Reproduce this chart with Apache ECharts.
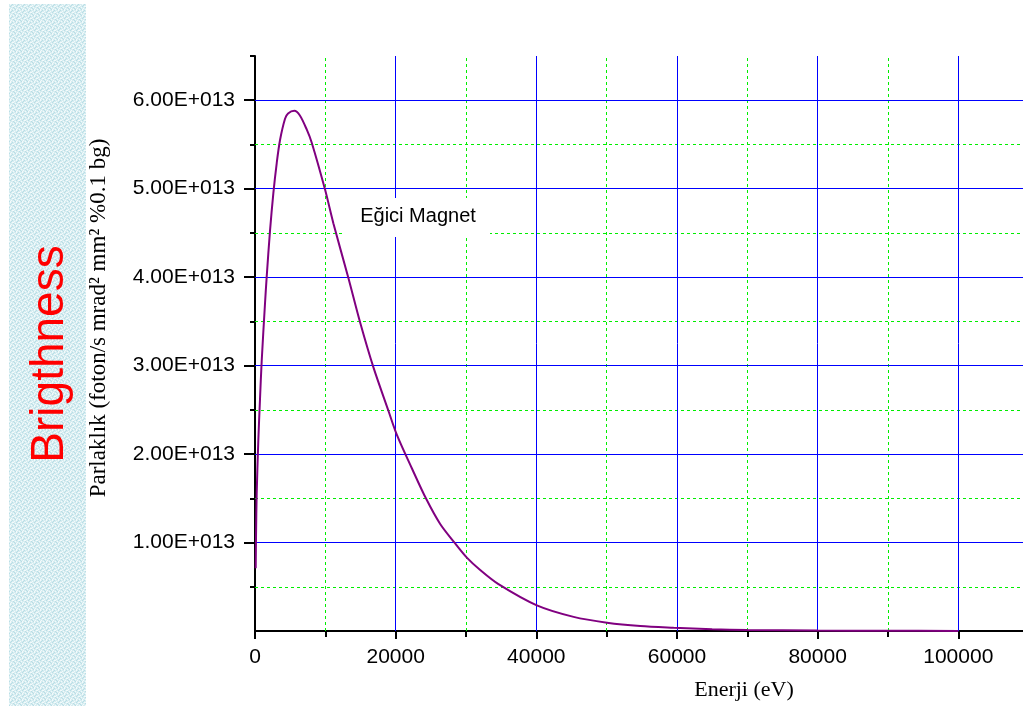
<!DOCTYPE html>
<html><head><meta charset="utf-8">
<script src="https://cdn.jsdelivr.net/npm/echarts@6/dist/echarts.min.js"></script>
<style>html,body{margin:0;padding:0;background:#fff}#c{width:1023px;height:706px}</style>
</head><body><div id="c"></div>
<script>
// Energy (eV)
const energy = [100,150,240,470,710,950,1420,1660,2130,2610,3090,3560,4270,4700,5590,6360,7350,8070,9960,11140,13280,14940,16840,18970,20160,22300,24300,26330,28460,30120,32020,34620,40080,45300,50050,54780,59530,65000,70000,80000,90000,100000];
// Brightness, in units of 1e13
const brightness = [0.71,1.10,1.55,2.15,2.62,3.05,3.70,4.00,4.52,4.95,5.29,5.55,5.79,5.85,5.88,5.83,5.67,5.52,4.99,4.61,3.99,3.49,2.98,2.49,2.22,1.84,1.50,1.21,0.99,0.83,0.69,0.53,0.29,0.16,0.094,0.056,0.037,0.02,0.012,0.005,0.002,0.001];
const scale = 1e13;
const xMajorTicks = [0,20000,40000,60000,80000,100000];
const xMinorTicks = [10000,30000,50000,70000,90000];
const yMajorTicks = [1,2,3,4,5,6];
const yMinorTicks = [0.5,1.5,2.5,3.5,4.5,5.5,6.5];
const xGridMajor = [20000,40000,60000,80000,100000];
const xGridMinor = [10000,30000,50000,70000,90000];
const yGridMajor = [1,2,3,4,5,6];
const yGridMinor = [0.5,1.5,2.5,3.5,4.5,5.5];
const texts = {
  side: 'Brigthness',
  yTitle: 'Parlaklık (foton/s mrad² mm² %0.1 bg)',
  xTitle: 'Enerji (eV)',
  note: 'Eğici Magnet'
};

const pc = document.createElement('canvas'); pc.width = 6; pc.height = 6;
const pctx = pc.getContext('2d');
pctx.fillStyle = '#d6edf1'; pctx.fillRect(0,0,6,6);
pctx.fillStyle = '#f3fafb';
[[0,0],[3,1],[1,3],[4,4],[2,5],[5,2],[1,0],[4,3]].forEach(p=>pctx.fillRect(p[0],p[1],1,1));
pctx.fillStyle = '#b9dde5';
[[1,1],[4,0],[0,4],[3,3],[5,5],[2,2]].forEach(p=>pctx.fillRect(p[0],p[1],1,1));

const chart = echarts.init(document.getElementById('c'), null, {renderer:'canvas'});
const black = '#000';
const tickLine = {color: black, width: 2};
const xMax = 109200;
const option = {
  animation: false,
  backgroundColor: '#fff',
  grid: {left: 255, top: 56, right: 0, height: 575, containLabel: false},
  xAxis: [
    {type:'value', min:0, max:xMax, interval:10000, position:'bottom',
     axisLine:{show:true, onZero:false, lineStyle:{color:black, width:2}},
     axisTick:{show:true, customValues:xMinorTicks, length:6, lineStyle:tickLine},
     axisLabel:{show:false}, splitLine:{show:false}},
    {type:'value', min:0, max:xMax, interval:20000, position:'bottom',
     axisLine:{show:false, onZero:false},
     axisTick:{show:true, customValues:xMajorTicks, length:8, lineStyle:tickLine},
     axisLabel:{show:true, customValues:xMajorTicks, margin:16, color:black, fontSize:21, fontFamily:'Arial, Liberation Sans, sans-serif',
       formatter: v => String(v)},
     splitLine:{show:false}}
  ],
  yAxis: [
    {type:'value', min:0, max:6.5*scale, interval:0.5*scale, position:'left',
     axisLine:{show:true, onZero:false, lineStyle:{color:black, width:2}},
     axisTick:{show:true, customValues:yMinorTicks.map(v=>v*scale), length:5, lineStyle:tickLine},
     axisLabel:{show:false}, splitLine:{show:false}},
    {type:'value', min:0, max:6.5*scale, interval:1*scale, position:'left',
     axisLine:{show:false, onZero:false},
     axisTick:{show:true, customValues:yMajorTicks.map(v=>v*scale), length:11, lineStyle:tickLine},
     axisLabel:{show:true, customValues:yMajorTicks.map(v=>v*scale), margin:20, color:black, fontSize:21,
       fontFamily:'Arial, Liberation Sans, sans-serif',
       formatter: v => (v/scale).toFixed(2) + 'E+013'},
     splitLine:{show:false}}
  ],
  series: [
    {type:'line', name:'minorGrid', data:[], z:1, silent:true,
     markLine:{silent:true, symbol:['none','none'], z:1, label:{show:false}, animation:false,
       lineStyle:{color:'#00ee00', width:1, type:[3,3]},
       emphasis:{disabled:true},
       data: xGridMinor.map(v=>({xAxis:v})).concat(yGridMinor.map(v=>({yAxis:v*scale})))}},
    {type:'line', name:'majorGrid', data:[], z:1, silent:true,
     markLine:{silent:true, symbol:['none','none'], z:1, label:{show:false}, animation:false,
       lineStyle:{color:'#0000ff', width:1, type:'solid'},
       emphasis:{disabled:true},
       data: xGridMajor.map(v=>({xAxis:v})).concat(yGridMajor.map(v=>({yAxis:v*scale})))}},
    {type:'line', name:'brightness', z:5, showSymbol:false, smooth:0.3,
     lineStyle:{color:'#800080', width:2},
     data: energy.map((e,i)=>[e, brightness[i]*scale])}
  ],
  graphic: [
    {type:'rect', z:-10, shape:{x:9, y:4, width:77, height:702}, style:{fill:{image:pc, repeat:'repeat'}}},
    {type:'text', z:10, x:50, y:354, rotation:Math.PI/2,
     style:{text:texts.side, fill:'#ff0000', font:'46px Arial, "Liberation Sans", sans-serif', align:'center', verticalAlign:'middle'}},
    {type:'text', z:10, x:99, y:318, rotation:Math.PI/2,
     style:{text:texts.yTitle, fill:black, font:'23px "Times New Roman", "Liberation Serif", serif', align:'center', verticalAlign:'middle'}},
    {type:'text', z:10, x:744, y:690,
     style:{text:texts.xTitle, fill:black, font:'22px "Times New Roman", "Liberation Serif", serif', align:'center', verticalAlign:'middle'}},
    {type:'rect', z:50, shape:{x:345, y:198, width:145, height:39}, style:{fill:'#fff'}},
    {type:'text', z:51, x:418, y:216,
     style:{text:texts.note, fill:black, font:'20px Arial, "Liberation Sans", sans-serif', align:'center', verticalAlign:'middle'}}
  ]
};
chart.setOption(option);
</script></body></html>
